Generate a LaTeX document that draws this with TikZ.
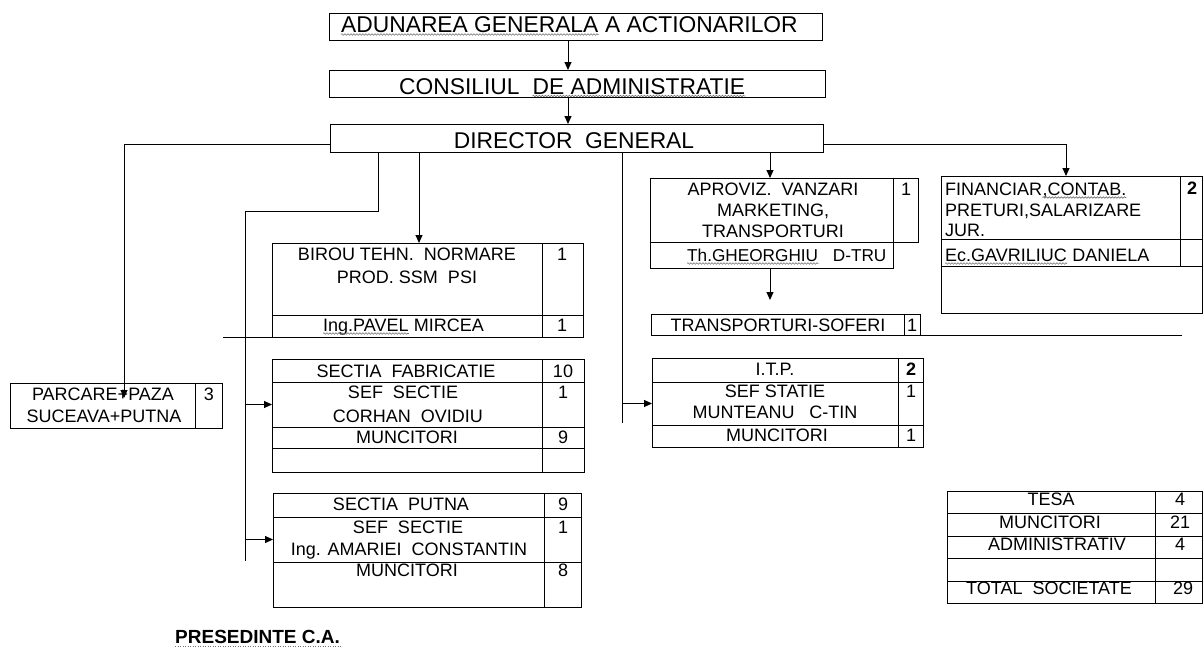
\documentclass[tikz,border=0pt]{standalone}
\usepackage{fontspec}
\setmainfont{Liberation Sans}
\usetikzlibrary{arrows.meta,decorations.pathmorphing}
\newcommand\cellbox[6]{\node[bx, minimum width=#4pt, minimum height=#5pt] (#1) at (#2,#3) {#6};}
\tikzset{
  bx/.style={draw, line width=1pt, rectangle, inner sep=0pt, outer sep=0pt, anchor=north west},
  bigtxt/.style={inner sep=0pt, anchor=base, font=\fontsize{22.8}{26}\selectfont},
  txt/.style={inner sep=0pt, anchor=base, font=\fontsize{18}{22}\selectfont},
  ltxt/.style={txt, anchor=base west},
  bnum/.style={txt, font=\fontsize{18}{22}\selectfont\bfseries},
  ln/.style={line width=1pt},
  arr/.style={line width=1pt, -{Triangle[length=8pt,width=7pt]}},
  squig/.style={draw=black!55, line width=0.6pt, decorate, decoration={snake, amplitude=0.8pt, segment length=3pt}},
  dots/.style={draw=black!55, line width=0.8pt, dash pattern=on 1pt off 1.5pt},
}
\begin{document}
\begin{tikzpicture}[x=1pt,y=-1pt]
\useasboundingbox (0,0) rectangle (1204,653);
% top boxes
\cellbox{adun}{329}{13}{493}{27}{}
\cellbox{cons}{329}{70}{496}{27}{}
\cellbox{dir}{330}{124}{493}{28}{}
\node[bigtxt, anchor=base west] (tadunA) at (341,32) {ADUNAREA GENERALA};
\node[bigtxt, anchor=base west] (tadunB) at (tadunA.base east) {\ A ACTIONARILOR};
\node[bigtxt, anchor=base west] (tconsA) at (399,94) {CONSILIUL};
\node[bigtxt, anchor=base west] (tconsB) at ([xshift=12.7pt]tconsA.base east) {DE ADMINISTRATIE};
\node[bigtxt] (tdir) at (574,148) {DIRECTOR\ \ GENERAL};
% BIROU
\cellbox{b1}{272}{243}{270}{72}{}
\cellbox{b1n}{542}{243}{41}{72}{}
\cellbox{b2}{272}{315}{270}{22}{}
\cellbox{b2n}{542}{315}{41}{22}{}
\node[txt] (tb1) at (407,260) {BIROU TEHN.\ \ NORMARE};
\node[txt] (tb2) at (407,283) {PROD. SSM\ \ PSI};
\node[ltxt] (tb3a) at (323,331) {Ing.PAVEL};
\node[ltxt] (tb3b) at (tb3a.base east) {\ MIRCEA};
\node[txt] (nb1) at (562,260) {1};
\node[txt] (nb2) at (562,331) {1};
% APROVIZ
\cellbox{ap1}{650}{178}{243}{64}{}
\cellbox{ap1n}{893}{178}{25}{64}{}
\cellbox{ap2}{650}{242}{243}{26}{}
\node[txt] (ta1) at (773,195) {APROVIZ.\ \ VANZARI};
\node[txt] (ta2) at (773,216) {MARKETING,};
\node[txt] (ta3) at (773,237) {TRANSPORTURI};
\node[ltxt, font=\fontsize{17.2}{22}\selectfont] (ta4a) at (687,261) {Th.GHEORGHIU};
\node[ltxt, font=\fontsize{17.2}{22}\selectfont] (ta4b) at (ta4a.base east) {\ \ \ D-TRU};
\node[txt] (na1) at (906,195) {1};
% TRANSPORTURI-SOFERI
\cellbox{ts}{651}{314}{253}{21}{}
\cellbox{tsn}{904}{314}{16}{21}{}
\node[txt] (tts) at (778,331) {TRANSPORTURI-SOFERI};
\node[txt] (nts) at (912,331) {1};
% ITP
\cellbox{it1}{652}{358}{246}{24}{}
\cellbox{it1n}{898}{358}{25}{24}{}
\cellbox{it2}{652}{382}{246}{43}{}
\cellbox{it2n}{898}{382}{25}{43}{}
\cellbox{it3}{652}{425}{246}{22}{}
\cellbox{it3n}{898}{425}{25}{22}{}
\node[txt] (ti1) at (775,375) {I.T.P.};
\node[txt] (ti2) at (775,397) {SEF STATIE};
\node[txt] (ti3) at (775,418) {MUNTEANU\ \ \ C-TIN};
\node[txt] (ti4) at (777,441) {MUNCITORI};
\node[bnum] (ni1) at (911,375) {2};
\node[txt] (ni2) at (911,397) {1};
\node[txt] (ni3) at (911,441) {1};
% SECTIA FABRICATIE
\cellbox{sf1}{272}{359}{270}{23}{}
\cellbox{sf1n}{542}{359}{42}{23}{}
\cellbox{sf2}{272}{382}{270}{45}{}
\cellbox{sf2n}{542}{382}{42}{45}{}
\cellbox{sf3}{272}{427}{270}{21}{}
\cellbox{sf3n}{542}{427}{42}{21}{}
\cellbox{sf4}{272}{448}{270}{24}{}
\cellbox{sf4n}{542}{448}{42}{24}{}
\node[txt] (tf1) at (406,377) {SECTIA\ \ FABRICATIE};
\node[txt] (tf2) at (403,398) {SEF\ \ SECTIE};
\node[txt] (tf3) at (408,422) {CORHAN\ \ OVIDIU};
\node[txt] (tf4) at (407,443) {MUNCITORI};
\node[txt] (nf1) at (563,377) {10};
\node[txt] (nf2) at (563,398) {1};
\node[txt] (nf3) at (563,443) {9};
% SECTIA PUTNA
\cellbox{sp1}{273}{493}{271}{24}{}
\cellbox{sp1n}{544}{493}{37}{24}{}
\cellbox{sp2}{273}{517}{271}{45}{}
\cellbox{sp2n}{544}{517}{37}{45}{}
\cellbox{sp3}{273}{562}{271}{45}{}
\cellbox{sp3n}{544}{562}{37}{45}{}
\node[txt] (tp1) at (401,510) {SECTIA\ \ PUTNA};
\node[txt] (tp2) at (408,533) {SEF\ \ SECTIE};
\node[txt] (tp3) at (409,555) {Ing. AMARIEI\ \ CONSTANTIN};
\node[txt] (tp4) at (407,576) {MUNCITORI};
\node[txt] (np1) at (563,510) {9};
\node[txt] (np2) at (563,533) {1};
\node[txt] (np3) at (563,576) {8};
% PARCARE
\cellbox{pk}{10}{383}{185}{45}{}
\cellbox{pkn}{195}{383}{27}{45}{}
\node[txt] (tk1) at (103,400) {PARCARE+PAZA};
\node[txt] (tk2) at (104,422) {SUCEAVA+PUTNA};
\node[txt] (nk1) at (209,400) {3};
% FINANCIAR
\cellbox{fi1}{941}{176}{239}{63}{}
\cellbox{fi1n}{1180}{176}{22}{63}{}
\cellbox{fi2}{941}{239}{239}{27}{}
\cellbox{fi2n}{1180}{239}{22}{27}{}
\cellbox{fi3}{941}{266}{261}{47}{}
\node[ltxt] (tn1a) at (945,195) {FINANCIAR};
\node[ltxt] (tn1b) at (tn1a.base east) {,CONTAB.};
\node[ltxt] (tn2) at (945,216) {PRETURI,SALARIZARE};
\node[ltxt] (tn3) at (945,236) {JUR.};
\node[ltxt] (tn4a) at (945,261) {Ec.GAVRILIUC};
\node[ltxt] (tn4b) at (tn4a.base east) {\ DANIELA};
\node[bnum] (nn1) at (1192,194) {2};
% summary table
\cellbox{s1}{947}{491}{208}{22}{}
\cellbox{s1n}{1155}{491}{47}{22}{}
\cellbox{s2}{947}{513}{208}{23}{}
\cellbox{s2n}{1155}{513}{47}{23}{}
\cellbox{s3}{947}{536}{208}{22}{}
\cellbox{s3n}{1155}{536}{47}{22}{}
\cellbox{s4}{947}{558}{208}{23}{}
\cellbox{s4n}{1155}{558}{47}{23}{}
\cellbox{s5}{947}{581}{208}{22}{}
\cellbox{s5n}{1155}{581}{47}{22}{}
\node[txt] (ts1) at (1051,505) {TESA};
\node[txt] (ts2) at (1050,528) {MUNCITORI};
\node[txt] (ts3) at (1057,550) {ADMINISTRATIV};
\node[txt] (ts5) at (1049,594) {TOTAL\ \ SOCIETATE};
\node[txt] (ns1) at (1180,505) {4};
\node[txt] (ns2) at (1180,528) {21};
\node[txt] (ns3) at (1180,550) {4};
\node[txt] (ns5) at (1183,594) {29};
% footer
\node[inner sep=0pt, anchor=base west, font=\fontsize{19}{22}\selectfont\bfseries] (pres) at (175,643) {PRESEDINTE C.A.};
% spell-check underlines
\draw[squig] ([yshift=-2.5pt]tadunA.base west) -- ([yshift=-2.5pt]tadunA.base east);
\draw[squig] ([yshift=-2pt]tconsB.base west) -- ([yshift=-2pt]tconsB.base east);
\draw[squig] ([yshift=-2.5pt]tb3a.base west) -- ([yshift=-2.5pt]tb3a.base east);
\draw[squig] ([yshift=-2.5pt]ta4a.base west) -- ([yshift=-2.5pt]ta4a.base east);
\draw[squig] ([yshift=-2.5pt]tn1b.base west) -- ([yshift=-2.5pt]tn1b.base east);
\draw[squig] ([yshift=-2.5pt]tn4a.base west) -- ([yshift=-2.5pt]tn4a.base east);
\draw[dots] ([yshift=-3pt]pres.base west) -- ([yshift=-3pt]pres.base east);
% connectors
\coordinate (cx) at (568,0);
\draw[arr] (cx |- adun.south) -- (cx |- cons.north);
\draw[arr] (cx |- cons.south) -- (cx |- dir.north);
\coordinate (ly) at (0,144);
\coordinate (ptip) at (124,398);
\draw[arr] (dir.west |- ly) -| (ptip);
\coordinate (m1) at (378,211);
\coordinate (m2) at (245,211);
\coordinate (m3) at (245,561);
\draw[ln] (m1 |- dir.south) -- (m1) -- (m2) -- (m3);
\draw[arr] (m2 |- sf2.west) -- (sf2.west);
\draw[arr] (m2 |- sp2.west) -- (sp2.west);
\coordinate (bx1) at (419,0);
\draw[arr] (bx1 |- dir.south) -- (bx1 |- b1.north);
\coordinate (sl) at (223,0);
\draw[ln] (b2.south west) -- (sl |- b2.south west);
\coordinate (i1) at (622,423);
\draw[ln] (i1 |- dir.south) -- (i1);
\draw[arr] (i1 |- it2.west) -- (it2.west);
\coordinate (ax) at (770,0);
\draw[arr] (ax |- dir.south) -- (ax |- ap1.north);
\coordinate (tt) at (770,300);
\draw[arr] (tt |- ap2.south) -- (tt);
\coordinate (te) at (1182,0);
\draw[ln] (tsn.south east) -- (te |- tsn.south east);
\coordinate (r1) at (1066,144);
\draw[arr] (dir.east |- r1) -- (r1) -- (r1 |- fi1.north);
\end{tikzpicture}
\end{document}
